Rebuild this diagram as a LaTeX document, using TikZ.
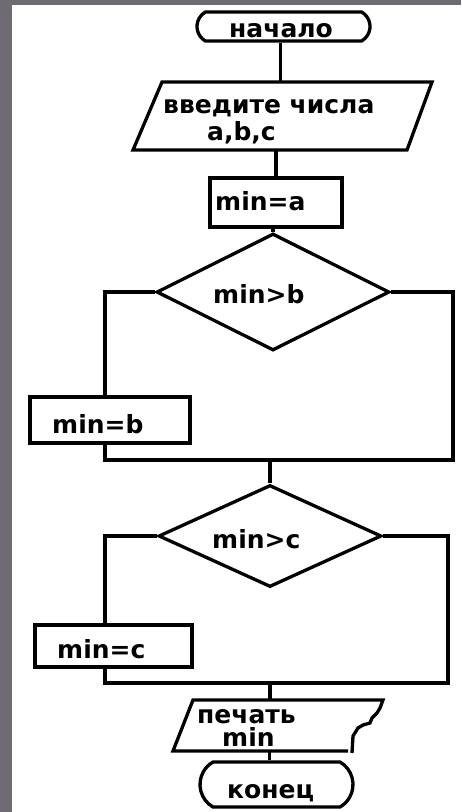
\documentclass[tikz,border=0pt]{standalone}
\usepackage{fontspec}
\setmainfont{DejaVu Sans}
\usetikzlibrary{shapes.geometric,shapes.misc}
\definecolor{framegray}{RGB}{110,107,115}
\begin{document}
\begin{tikzpicture}[x=1pt,y=-1pt,
  ln/.style={draw=black, line width=3.3pt, line join=miter},
  term/.style={draw=black, line width=3.3pt, rounded rectangle, rounded rectangle arc length=120, inner sep=0pt},
  box/.style={draw=black, line width=3.3pt, rectangle, inner sep=0pt},
  dec/.style={draw=black, line width=3.3pt, diamond, inner sep=0pt},
  txt/.style={anchor=base west, inner sep=0pt, font=\fontsize{25}{27}\selectfont\bfseries}]
\useasboundingbox (0,0) rectangle (461,812);
\fill[framegray] (0,0) rectangle (461,812);
\fill[white] (12,5) rectangle (461,812);

% shapes
\node[term, minimum width=173pt, minimum height=29pt] (start) at (283.5,26.5) {};
\coordinate (p1) at (162,82);
\coordinate (p2) at (432,82);
\coordinate (p3) at (407,150);
\coordinate (p4) at (133,150);
\draw[ln] (p1) -- (p2) -- (p3) -- (p4) -- cycle;
\node[box, minimum width=132pt, minimum height=49pt] (boxa) at (276,202.5) {};
\node[dec, minimum width=233pt, minimum height=117pt] (db) at (273,292) {};
\node[box, minimum width=160pt, minimum height=46pt] (bb) at (110,420) {};
\coordinate (m1r) at (453,460);
\node[dec, minimum width=223pt, minimum height=102pt] (dc) at (270,536) {};
\node[box, minimum width=157pt, minimum height=42pt] (bc) at (113.5,646) {};
\coordinate (m2r) at (448,683);
\coordinate (pr1) at (193,700);
\coordinate (pr2) at (383,700);
\coordinate (pr3) at (348,751);
\coordinate (pr4) at (173,751);
\coordinate (pr5) at (352,753);
\draw[ln] (pr3) -- (pr4) -- (pr1) -- (pr2) -- (380,708) -- (377,713) -- (372,718) -- (370,723) -- (363,725) -- (358,728) -- (353,736) -- (pr5);
\node[term, minimum width=153pt, minimum height=45pt] (fin) at (276.5,784.5) {};

% connectors
\draw[ln] ([xshift=-3pt]start.south) -- ([xshift=-3pt]start.south |- p1);
\draw[ln] (boxa.north |- p4) -- (boxa.north);
\draw[ln] (db.north |- boxa.south) -- (db.north);
\draw[ln] (db.west) -| ([xshift=-5pt]bb.north);
\draw[ln] ([xshift=-5pt]bb.south) |- (m1r) |- (db.east);
\draw[ln] (dc.north |- m1r) -- (dc.north);
\draw[ln] (dc.west) -| ([xshift=-8.5pt]bc.north);
\draw[ln] ([xshift=-8.5pt]bc.south) |- (m2r) |- (dc.east);
\draw[ln] (dc.north |- m2r) -- (dc.north |- pr1);
\draw[ln] ([xshift=-7pt]fin.north |- pr4) -- ([xshift=-7pt]fin.north);

% texts
\node[txt] (t0) at (229,37) {начало};
\node[txt] (t1) at (163,113) {введите числа};
\node[txt] (t2) at (207,140) {a,b,c};
\node[txt] (t3) at (215,210) {min=a};
\node[txt] (t4) at (213,303) {min>b};
\node[txt] (t5) at (52,433) {min=b};
\node[txt] (t6) at (212,548) {min>c};
\node[txt] (t7) at (57,658) {min=c};
\node[txt] (t8) at (197,723) {печать};
\node[txt] (t9) at (222,746) {min};
\node[txt] (t10) at (227,798) {конец};
\end{tikzpicture}
\end{document}
